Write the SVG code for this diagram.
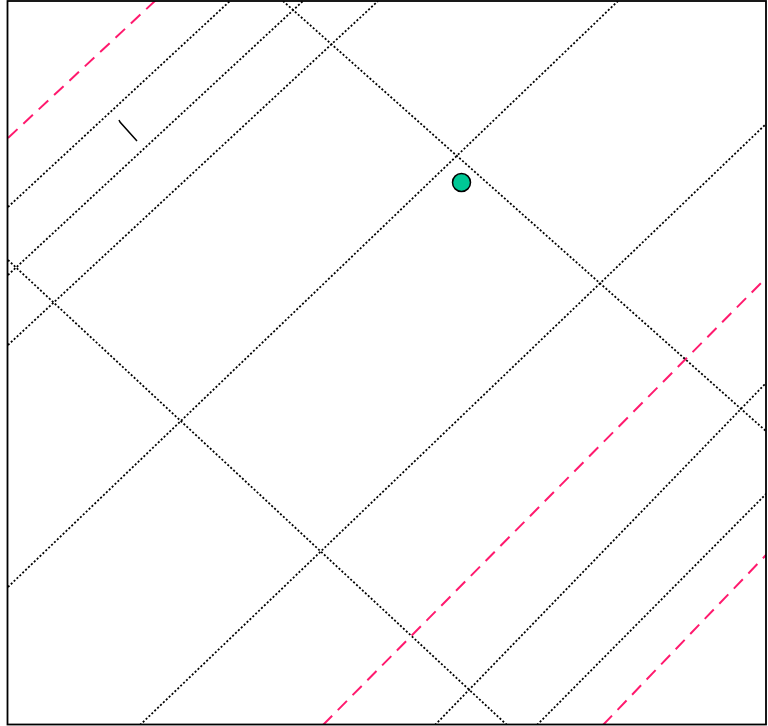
<svg xmlns="http://www.w3.org/2000/svg" width="768" height="726" viewBox="0 0 768 726">
<style>
.dot{stroke:#000;stroke-width:1.8;stroke-dasharray:2 2;fill:none}
.dash{stroke:#ff1a6e;stroke-width:2;stroke-dasharray:13 8;fill:none}
</style>
<defs><clipPath id="c"><rect x="7.5" y="1" width="758.5" height="723.5"/></clipPath></defs>
<rect width="768" height="726" fill="#fff"/>
<g id="connectors" clip-path="url(#c)">
<line class="dash" x1="8" y1="138" x2="156" y2="0"/>
<line class="dot" x1="8" y1="207" x2="230" y2="1"/>
<line class="dot" x1="8" y1="275" x2="303" y2="1"/>
<line class="dot" x1="8" y1="345" x2="378" y2="1"/>
<line class="dot" x1="8" y1="587" x2="618" y2="1"/>
<line class="dot" x1="140" y1="725" x2="767" y2="123"/>
<line class="dash" x1="323" y1="725" x2="767" y2="277"/>
<line class="dot" x1="435" y1="725" x2="767" y2="382"/>
<line class="dot" x1="537" y1="725" x2="767" y2="493"/>
<line class="dash" x1="603" y1="725" x2="767" y2="554"/>
<line class="dot" x1="283" y1="1" x2="767" y2="432"/>
<line class="dot" x1="8" y1="260" x2="507" y2="725"/>
</g>
<g id="mark"><path d="M119,120 L120,122 L137,141" fill="none" stroke="#000" stroke-width="1.5"/></g>
<g id="node"><circle cx="461.5" cy="182.5" r="9" fill="#00c896" stroke="#000" stroke-width="1.5"/></g>
<rect x="7.5" y="1" width="758.5" height="723.5" fill="none" stroke="#000" stroke-width="1.8"/>
</svg>
